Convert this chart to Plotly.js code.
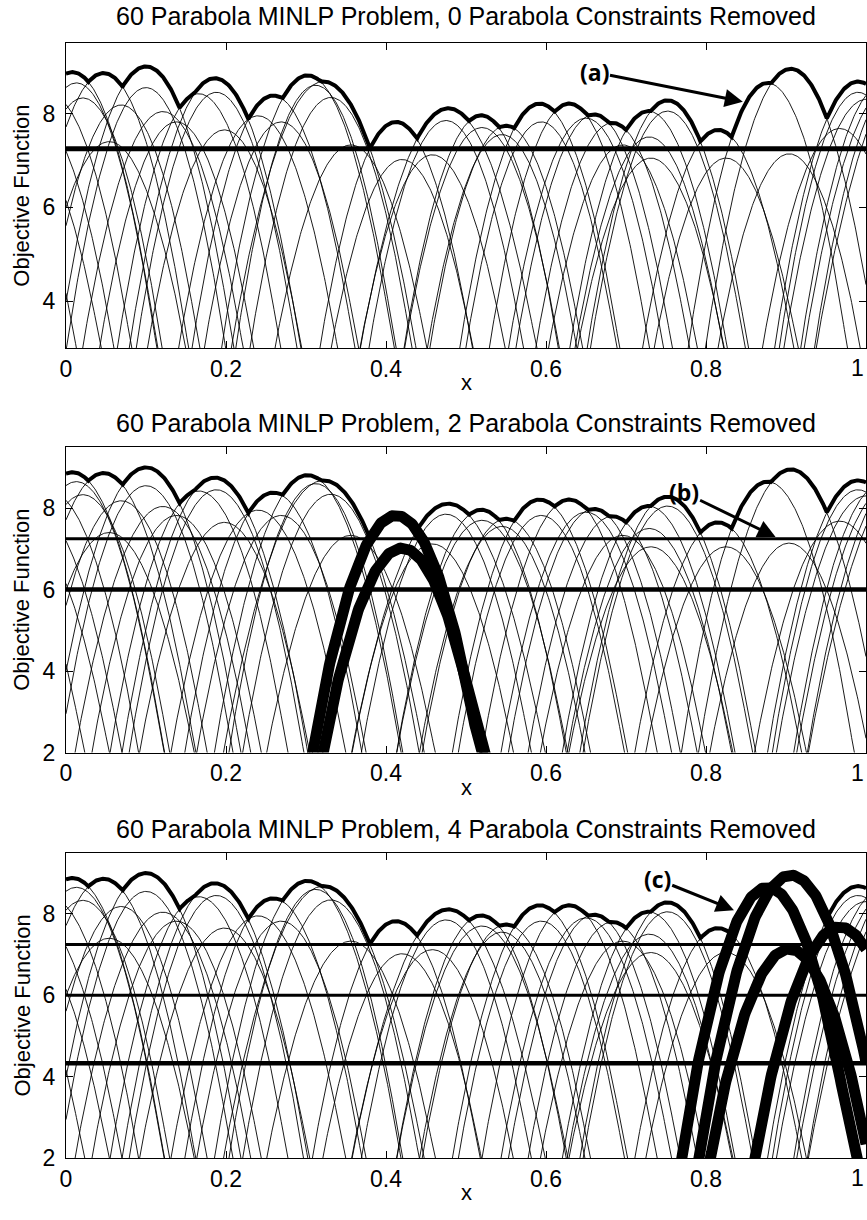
<!DOCTYPE html>
<html><head><meta charset="utf-8">
<script src="https://cdn.plot.ly/plotly-3.0.1.min.js"></script>
<style>html,body{margin:0;padding:0;background:#fff}</style>
</head><body><div id="chart" style="width:867px;height:1220px"></div>
<script>
// Each parabola: f(x) = peak - curvature * (x - center)^2
const parabolaCenter = [
  0.008, 0.047, 0.100, 0.166, 0.186, 0.259, 0.302, 0.322, 0.4125, 0.478,
  0.519, 0.550, 0.592, 0.629, 0.660, 0.683, 0.728, 0.752, 0.815, 0.877,
  0.906, 0.990, 0.420, 0.904, 0.967, 0.013, 0.021, 0.054, 0.069, 0.121,
  0.138, 0.198, 0.269, 0.312, 0.331, 0.356, 0.458, 0.545, 0.594, 0.650,
  0.696, 0.729, 0.731, 0.825, 1.020, 1.030, 1.040, 1.060, -0.040, -0.050,
  -0.080, -0.020, 0.100, 0.188, 0.240, 0.475, 0.520, 0.752, 0.990, 1.000
];
const parabolaPeak = [
  8.88, 8.86, 9.00, 8.42, 8.75, 8.38, 8.81, 8.68, 7.82, 8.11,
  7.96, 7.74, 8.21, 8.21, 7.98, 7.80, 8.05, 8.28, 7.65, 8.65,
  8.95, 8.68, 7.02, 7.14, 7.68, 8.65, 8.33, 7.40, 8.18, 8.04,
  7.82, 7.65, 7.82, 8.60, 8.34, 7.33, 7.12, 7.55, 7.82, 7.90,
  7.33, 7.50, 7.05, 7.05, 8.60, 8.55, 8.70, 9.00, 8.00, 7.40,
  7.50, 8.40, 8.55, 8.45, 7.95, 7.85, 7.70, 8.05, 8.45, 8.30
];
const parabolaCurvature = [
  520, 520, 500, 520, 500, 520, 500, 425, 530, 420,
  530, 520, 520, 520, 520, 520, 520, 520, 520, 570,
  520, 520, 510, 520, 500, 560, 540, 480, 540, 500,
  520, 500, 520, 560, 520, 480, 500, 520, 540, 520,
  500, 520, 480, 500, 540, 480, 520, 400, 500, 500,
  520, 520, 560, 540, 500, 520, 500, 540, 560, 500
];
// indices (0-based) of parabola constraints removed in each panel
const removedIndices = [[], [8, 22], [19, 20, 23, 24]];
// optimum objective levels shown as horizontal lines in each panel
const optimumLevels = [[7.25], [7.25, 6.00], [7.25, 6.00, 4.33]];
const panelTitles = [
  '60 Parabola MINLP Problem, 0 Parabola Constraints Removed',
  '60 Parabola MINLP Problem, 2 Parabola Constraints Removed',
  '60 Parabola MINLP Problem, 4 Parabola Constraints Removed'
];
const yRanges = [[3, 9.5], [2, 9.5], [2, 9.5]];
const yTickVals = [[4, 6, 8], [2, 4, 6, 8], [2, 4, 6, 8]];
const xTickVals = [0, 0.2, 0.4, 0.6, 0.8, 1];
const xTickText = ['0', '0.2', '0.4', '0.6', '0.8', '1'];
const calloutLabels = ['(a)', '(b)', '(c)'];
const calloutText = [[0.66, 8.88], [0.772, 8.39], [0.739, 8.85]];
const calloutHead = [[0.846, 8.25], [0.887, 7.29], [0.835, 8.09]];

// layout geometry (pixels)
const H = 1220;
const panelTop = [43, 447, 852.7];
const panelBottom = [348.3, 752.5, 1158.3];
const titleShift = [11, 8, 8];

const N = 1001;
const xs = [];
for (let i = 0; i < N; i++) xs.push(i / (N - 1));
function par(k, x) { return parabolaPeak[k] - parabolaCurvature[k] * (x - parabolaCenter[k]) ** 2; }
const envelope = xs.map(x => { let m = -Infinity; for (let k = 0; k < parabolaPeak.length; k++) m = Math.max(m, par(k, x)); return m; });

const FONT = 'Liberation Sans, Arial, Helvetica, sans-serif';
const traces = [];
const layout = {
  width: 867, height: H, margin: {l: 66, r: 1, t: 0, b: 0},
  paper_bgcolor: '#fff', plot_bgcolor: '#fff', showlegend: false,
  font: {family: FONT, size: 22, color: '#000'},
  annotations: []
};

// the last x tick label sits at the right edge of the page; draw it right-aligned so it stays inside
const lastTick = xTickVals.length - 1;
const xTickTextAxis = xTickText.map((t, i) => i === lastTick ? '' : t);

for (let p = 0; p < 3; p++) {
  const xa = p === 0 ? 'x' : 'x' + (p + 1);
  const ya = p === 0 ? 'y' : 'y' + (p + 1);
  const lo = yRanges[p][0] - 1;
  // thin parabolas
  const tx = [], ty = [];
  for (let k = 0; k < parabolaPeak.length; k++) {
    for (let i = 0; i < N; i++) { const v = par(k, xs[i]); tx.push(xs[i]); ty.push(v < lo ? lo : v); }
    tx.push(null); ty.push(null);
  }
  traces.push({x: tx, y: ty, xaxis: xa, yaxis: ya, mode: 'lines', line: {color: '#000', width: 0.9}, hoverinfo: 'skip'});
  // optimum levels
  optimumLevels[p].forEach((v, j) => {
    const w = p === 0 ? 5 : (j === optimumLevels[p].length - 1 ? 4.5 : 3);
    traces.push({x: [0, 1], y: [v, v], xaxis: xa, yaxis: ya, mode: 'lines', line: {color: '#000', width: w}, hoverinfo: 'skip'});
  });
  // envelope
  traces.push({x: xs, y: envelope, xaxis: xa, yaxis: ya, mode: 'lines', line: {color: '#000', width: 4}, hoverinfo: 'skip'});
  // removed constraints
  removedIndices[p].forEach(k => {
    const ry = xs.map(x => { const v = par(k, x); return v < lo ? lo : v; });
    traces.push({x: xs, y: ry, xaxis: xa, yaxis: ya, mode: 'lines', line: {color: '#000', width: 11}, hoverinfo: 'skip'});
  });

  const dom = [1 - panelBottom[p] / H, 1 - panelTop[p] / H];
  const axBase = {showline: true, linecolor: '#000', linewidth: 1, mirror: 'ticks', ticks: 'inside', ticklen: 7,
    tickcolor: '#000', showgrid: false, zeroline: false, tickfont: {family: FONT, size: 23, color: '#000'},
    fixedrange: true};
  layout['xaxis' + (p === 0 ? '' : p + 1)] = Object.assign({}, axBase, {
    domain: [0, 1], range: [0, 1], tickvals: xTickVals, ticktext: xTickTextAxis, anchor: ya });
  layout['yaxis' + (p === 0 ? '' : p + 1)] = Object.assign({}, axBase, {
    domain: dom, range: yRanges[p], tickvals: yTickVals[p], ticktext: yTickVals[p].map(String), anchor: xa,
    ticklabelstandoff: 5 });

  layout.annotations.push({xref: 'paper', yref: 'paper', x: 1, xanchor: 'right', y: dom[0], yanchor: 'top', yshift: -5,
    text: xTickText[lastTick], showarrow: false, font: {family: FONT, size: 23}});
  layout.annotations.push({xref: 'paper', yref: 'paper', x: 0.5, xanchor: 'center', y: dom[1], yanchor: 'bottom',
    yshift: titleShift[p], text: panelTitles[p], showarrow: false, font: {family: FONT, size: 25}});
  layout.annotations.push({xref: 'paper', yref: 'paper', x: 0.5, xanchor: 'center', y: dom[0], yanchor: 'top', yshift: -20,
    text: 'x', showarrow: false, font: {family: FONT, size: 22}});
  layout.annotations.push({xref: 'paper', yref: 'paper', x: 0, xanchor: 'center', xshift: -44, y: (dom[0] + dom[1]) / 2,
    yanchor: 'middle', text: 'Objective Function', textangle: -90, showarrow: false, font: {family: FONT, size: 22}});
  layout.annotations.push({xref: xa, yref: ya, axref: xa, ayref: ya, x: calloutHead[p][0], y: calloutHead[p][1],
    ax: calloutText[p][0], ay: calloutText[p][1], text: '<b>' + calloutLabels[p] + '</b>', showarrow: true,
    arrowhead: 2, arrowsize: 1.2, arrowwidth: 3, arrowcolor: '#000', standoff: 0,
    font: {family: 'Open Sans, sans-serif', size: 23, color: '#000'}});
}

Plotly.newPlot('chart', traces, layout, {displayModeBar: false, staticPlot: true});
</script></body></html>
